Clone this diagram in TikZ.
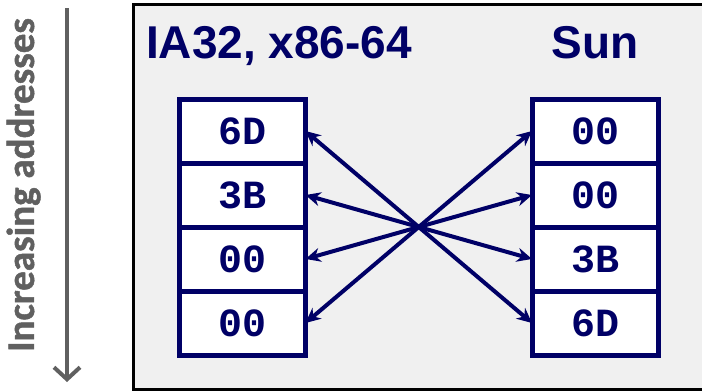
\documentclass[tikz,border=0pt]{standalone}
\usepackage{fontspec}
\setmainfont{Liberation Sans}
\newfontfamily\cellfont{Liberation Mono}
\newfontfamily\sidefont{Carlito}[BoldFont={Carlito Bold}, BoldFeatures={FakeBold=1.2}]
\usetikzlibrary{positioning,arrows.meta}
\definecolor{navy}{RGB}{0,0,102}
\definecolor{sidegray}{RGB}{96,96,96}
\definecolor{panelgray}{RGB}{240,240,240}
\begin{document}
\begin{tikzpicture}[x=1pt,y=-1pt,
  cell/.style={draw=navy, line width=5pt, fill=white, minimum width=126pt, minimum height=64pt,
    outer sep=0pt, inner sep=0pt, text=navy, font=\cellfont\bfseries\fontsize{40}{40}\selectfont},
  title/.style={anchor=base, text=navy, font=\bfseries\fontsize{46}{46}\selectfont},
  swap/.style={draw=navy, line width=4pt, {Stealth[length=15pt,width=14pt]}-{Stealth[length=15pt,width=14pt]}}]

\useasboundingbox (0,0) rectangle (702,391);

% panel
\fill[panelgray] (133,4) rectangle (710,389);
\draw[line width=3pt] (710,4) -- (133,4) -- (133,389) -- (710,389);

% address direction
\coordinate (top) at (67,8);
\coordinate (bottom) at (67,382);
\draw[sidegray, line width=4pt, -{Straight Barb[length=12pt,width=26pt]}] (top) -- (bottom);
\node[rotate=90, anchor=base, text=sidegray, font=\sidefont\bfseries\fontsize{39}{39}\selectfont] (axis) at (34,185) {Increasing addresses};

\node[title] (ia) at (279,58) {IA32, x86-64};
\node[title] (sun) at (595,58) {Sun};

% little endian
\node[cell] (l1) at (242.5,131) {6D};
\node[cell, below=0pt of l1] (l2) {3B};
\node[cell, below=0pt of l2] (l3) {00};
\node[cell, below=0pt of l3] (l4) {00};

% big endian
\node[cell] (r1) at (595,131) {00};
\node[cell, below=0pt of r1] (r2) {00};
\node[cell, below=0pt of r2] (r3) {3B};
\node[cell, below=0pt of r3] (r4) {6D};

\foreach \a/\b in {1/4, 2/3, 3/2, 4/1} \draw[swap] (l\a.east) -- (r\b.west);

\end{tikzpicture}
\end{document}
